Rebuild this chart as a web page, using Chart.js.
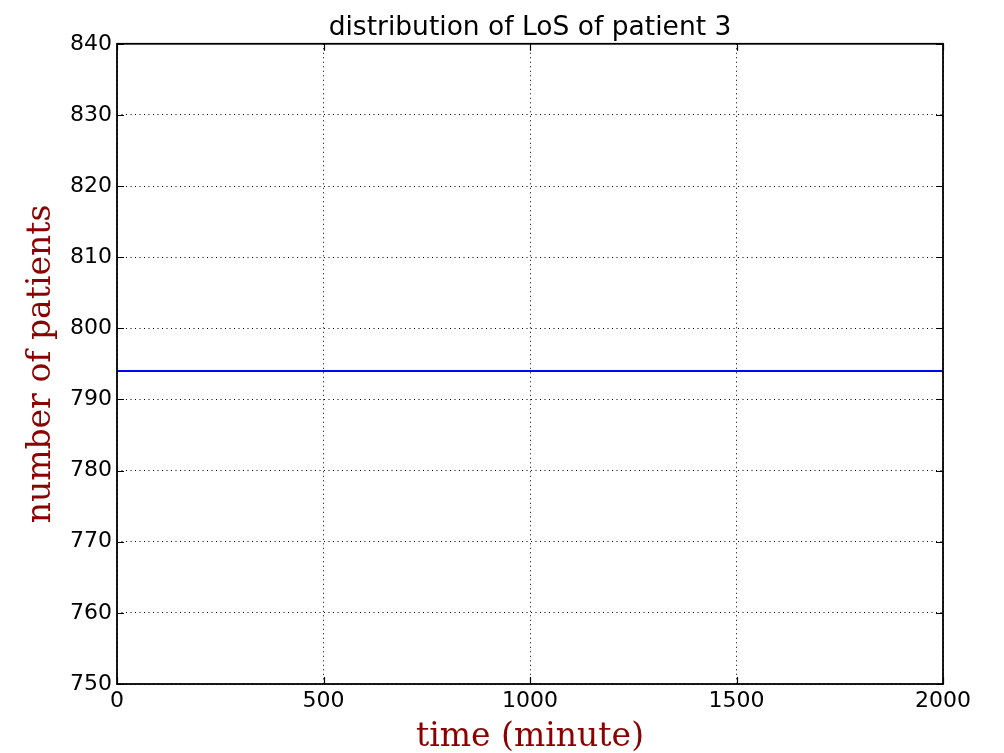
<!DOCTYPE html>
<html>
<head>
<meta charset="utf-8">
<script src="https://cdn.jsdelivr.net/npm/chart.js@4/dist/chart.umd.min.js"></script>
<style>
  html, body { margin: 0; padding: 0; background: #fff; }
  #losChart { display: block; }
</style>
</head>
<body>
<canvas id="losChart" width="1004" height="753"></canvas>
<script>
// LoS distribution data for patient 3
const timeMinutes = [0, 2000];
const patientCounts = [794, 794];
const xTicks = [0, 500, 1000, 1500, 2000];
const yTicks = [750, 760, 770, 780, 790, 800, 810, 820, 830, 840];

const points = timeMinutes.map((t, i) => ({ x: t, y: patientCounts[i] }));

// frame around the plot area plus inward tick marks on all four sides
const frameTicks = {
  id: 'frameTicks',
  afterDraw(chart) {
    const { ctx, chartArea: a, scales } = chart;
    const len = 7;
    ctx.save();
    ctx.strokeStyle = '#000';
    ctx.lineWidth = 1.2;
    ctx.beginPath();
    scales.x.ticks.forEach(t => {
      const px = Math.round(scales.x.getPixelForValue(t.value)) + 0.5;
      ctx.moveTo(px, a.bottom); ctx.lineTo(px, a.bottom - len);
      ctx.moveTo(px, a.top); ctx.lineTo(px, a.top + len);
    });
    scales.y.ticks.forEach(t => {
      const py = Math.round(scales.y.getPixelForValue(t.value)) + 0.5;
      ctx.moveTo(a.left, py); ctx.lineTo(a.left + len, py);
      ctx.moveTo(a.right, py); ctx.lineTo(a.right - len, py);
    });
    ctx.stroke();
    ctx.lineWidth = 1.8;
    ctx.strokeRect(a.left, a.top, a.right - a.left, a.bottom - a.top);
    ctx.restore();
  }
};

const tickFont = { family: 'DejaVu Sans', size: 22 };
const labelFont = { family: 'DejaVu Serif', size: 33 };

new Chart(document.getElementById('losChart'), {
  type: 'line',
  data: {
    datasets: [{
      data: points,
      borderColor: '#0000ff',
      borderWidth: 2,
      pointRadius: 0,
      fill: false,
      tension: 0
    }]
  },
  options: {
    responsive: false,
    animation: false,
    layout: { padding: { left: 0, right: 61, top: 0, bottom: 0 } },
    plugins: {
      legend: { display: false },
      tooltip: { enabled: false },
      title: {
        display: true,
        fullSize: false,
        text: 'distribution of LoS of patient 3',
        color: '#000',
        font: { family: 'DejaVu Sans', size: 26.5, weight: 'normal' },
        padding: { top: 12, bottom: 0 }
      }
    },
    scales: {
      x: {
        type: 'linear',
        min: 0,
        max: 2000,
        afterBuildTicks(scale) { scale.ticks = xTicks.map(v => ({ value: v })); },
        afterFit(scale) { scale.height = 69; },
        ticks: { color: '#000', font: tickFont, padding: 4, maxRotation: 0, callback: v => String(v) },
        grid: { color: '#000', lineWidth: 1, drawTicks: false },
        border: { display: false, dash: [1, 3.5] },
        title: {
          display: true,
          text: 'time (minute)',
          color: '#8b0000',
          font: labelFont,
          padding: { top: 0, bottom: -4 }
        }
      },
      y: {
        type: 'linear',
        min: 750,
        max: 840,
        afterBuildTicks(scale) { scale.ticks = yTicks.map(v => ({ value: v })); },
        afterFit(scale) { scale.width = 117; },
        ticks: { color: '#000', font: tickFont, padding: 5, callback: v => String(v) },
        grid: { color: '#000', lineWidth: 1, drawTicks: false },
        border: { display: false, dash: [1, 3.5] },
        title: {
          display: true,
          text: 'number of patients',
          color: '#8b0000',
          font: labelFont,
          padding: { top: 22, bottom: 0 }
        }
      }
    }
  },
  plugins: [frameTicks]
});
</script>
</body>
</html>
